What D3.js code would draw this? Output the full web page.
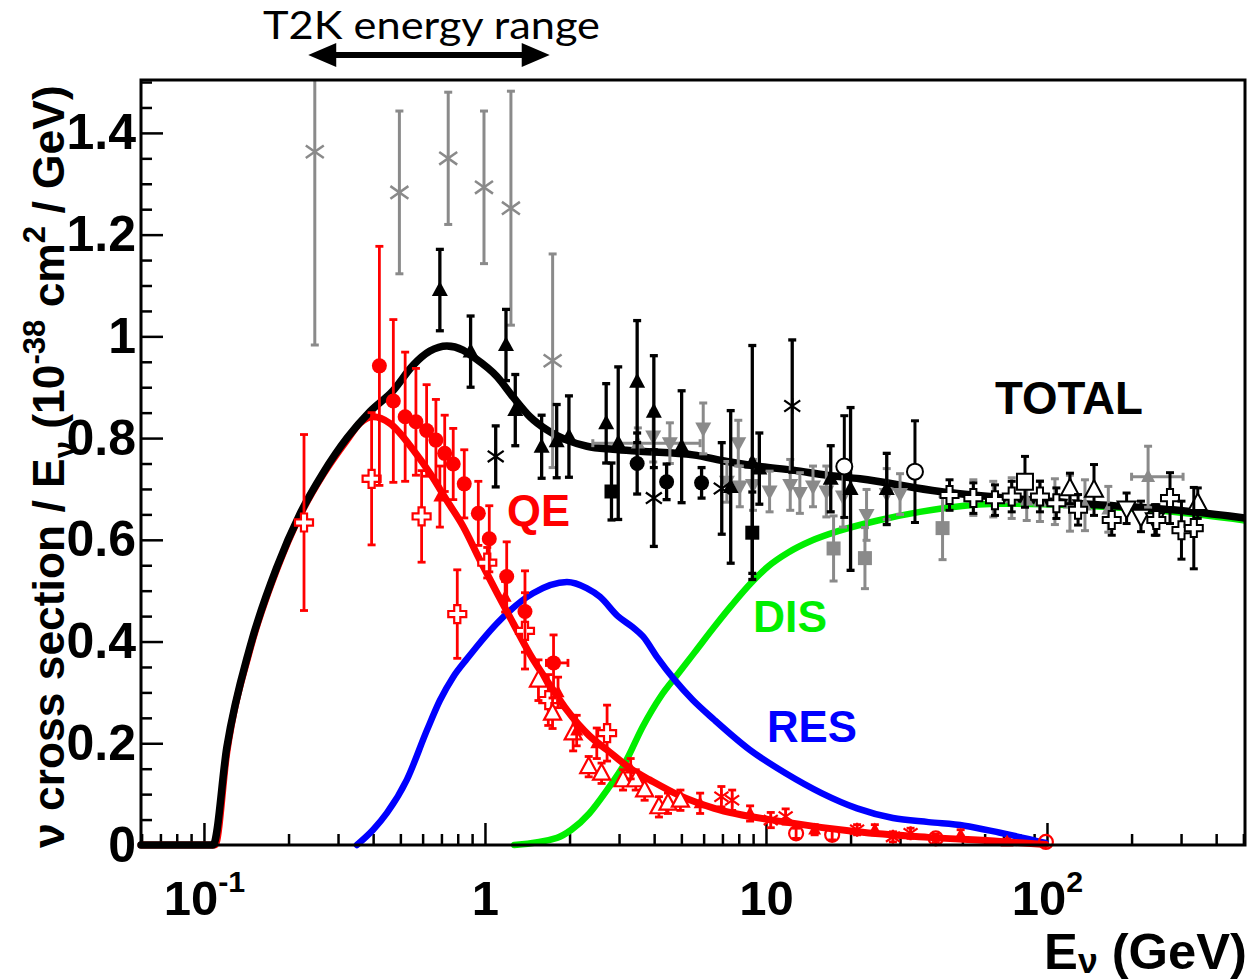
<!DOCTYPE html>
<html>
<head>
<meta charset="utf-8">
<title>Neutrino cross section</title>
<script src="https://cdn.jsdelivr.net/npm/d3@7/dist/d3.min.js"></script>
<style>
  body { margin: 0; background: #fff; }
  svg { display: block; }
  text { font-family: "Liberation Sans", Arial, Helvetica, sans-serif; font-weight: bold; }
  text.t2k { font-family: Lato, "Open Sans", sans-serif; font-weight: normal; }
</style>
</head>
<body>
<div id="chart"></div>
<script>
// ---- model curves: [E (GeV), sigma/E (1e-38 cm2/GeV)]
var totalCurve = [
  [0.0597, 0], [0.1077, 0], [0.1207, 0.193], [0.1458, 0.389], [0.182, 0.547], [0.2197, 0.651],
  [0.2652, 0.731], [0.3228, 0.800], [0.3896, 0.852], [0.4707, 0.893], [0.5544, 0.943],
  [0.637, 0.971], [0.732, 0.981], [0.835, 0.973], [0.906, 0.960], [1.103, 0.921],
  [1.258, 0.881], [1.446, 0.842], [1.662, 0.816], [1.958, 0.796], [2.307, 0.784],
  [2.855, 0.778], [3.561, 0.774], [5.50, 0.767], [7.26, 0.754], [9.52, 0.744],
  [12.48, 0.737], [16.48, 0.727], [21.6, 0.720], [41.6, 0.695], [72.1, 0.682],
  [163.5, 0.668], [280.6, 0.659], [506.6, 0.643]
];
var qeCurve = [
  [0.0597, 0], [0.1095, 0], [0.1207, 0.183], [0.1458, 0.384], [0.182, 0.543], [0.2197, 0.648],
  [0.2652, 0.728], [0.3228, 0.796], [0.36, 0.830], [0.40, 0.842], [0.459, 0.829],
  [0.5555, 0.777], [0.637, 0.731], [0.7305, 0.678], [0.837, 0.626], [0.96, 0.560],
  [1.10, 0.497], [1.26, 0.436], [1.446, 0.375], [1.70, 0.315], [1.958, 0.265],
  [2.35, 0.215], [2.717, 0.187], [3.36, 0.147], [3.86, 0.128], [4.89, 0.098],
  [6.55, 0.072], [11.75, 0.045], [21.1, 0.026], [37.9, 0.015], [68.1, 0.007], [99, 0.001]
];
var resCurve = [
  [0.35, 0], [0.40, 0.03], [0.448, 0.063], [0.527, 0.128], [0.622, 0.226], [0.691, 0.284],
  [0.77, 0.330], [0.863, 0.366], [1.131, 0.442], [1.482, 0.495], [1.958, 0.517], [2.30, 0.505],
  [2.566, 0.488], [2.97, 0.450], [3.36, 0.428], [3.65, 0.41], [4.09, 0.37], [4.74, 0.324],
  [5.49, 0.285], [6.55, 0.246], [8.76, 0.187], [11.75, 0.141], [15.77, 0.102],
  [21.1, 0.072], [28.3, 0.053], [37.9, 0.045], [50.8, 0.038], [68.1, 0.024], [99, 0.004]
];
var disCurve = [
  [1.271, 0], [1.804, 0.014], [2.03, 0.03], [2.35, 0.062], [2.718, 0.108], [3.148, 0.161],
  [3.646, 0.233], [4.22, 0.292], [4.89, 0.338], [5.65, 0.383], [6.55, 0.429], [7.57, 0.472],
  [8.78, 0.513], [10.2, 0.548], [12.0, 0.575], [14.5, 0.598], [18.3, 0.618], [25, 0.638],
  [35.3, 0.655], [68.1, 0.671], [123.8, 0.668], [280, 0.655], [506, 0.638]
];

// ---- measurements: [E, value, error, (E low, E high)]
var grayCrosses = [[0.248, 1.363, 0.38], [0.496, 1.283, 0.16], [0.740, 1.350, 0.13],
  [0.992, 1.293, 0.15], [1.237, 1.252, 0.23], [1.741, 0.952, 0.21]];
var blackTriangles = [[0.691, 1.091, 0.08], [0.889, 0.970, 0.07], [1.188, 0.983, 0.07],
  [1.282, 0.855, 0.07], [1.591, 0.783, 0.062], [1.80, 0.794, 0.072], [1.99, 0.803, 0.08],
  [2.70, 0.829, 0.078], [2.98, 0.79, 0.15], [3.48, 0.911, 0.12], [3.99, 0.852, 0.11],
  [5.01, 0.783, 0.11], [7.49, 0.704, 0.15], [8.94, 0.752, 0.23], [9.47, 0.74, 0.07],
  [17.0, 0.72, 0.065], [20.0, 0.70, 0.16], [26.9, 0.70, 0.07]];
var blackCircles = [[3.48, 0.750, 0.06], [4.43, 0.714, 0.035], [5.90, 0.712, 0.03]];
var blackSquares = [[2.82, 0.695, 0.056], [8.94, 0.614, 0.08]];
var blackStars = [[1.092, 0.764, 0.06], [3.99, 0.682, 0.095], [6.96, 0.701, 0.09], [12.4, 0.863, 0.13]];
var grayDown = [[3.97, 0.803, 0.05], [4.55, 0.79, 0.04], [5.98, 0.819, 0.05], [7.97, 0.790, 0.045],
  [7.26, 0.714, 0.04], [8.07, 0.705, 0.04], [8.99, 0.708, 0.05], [10.3, 0.695, 0.04],
  [12.2, 0.708, 0.05], [13.2, 0.692, 0.04], [14.7, 0.705, 0.04], [16.4, 0.695, 0.05],
  [18.8, 0.685, 0.06], [22.8, 0.649, 0.05], [26.9, 0.69, 0.05], [30.0, 0.69, 0.04]];
var grayUp = [[3.5, 0.79, 0.03, 2.42, 5.83], [54.7, 0.683, 0.035], [64.4, 0.68, 0.035],
  [74.9, 0.682, 0.04], [84.7, 0.678, 0.04], [94.4, 0.676, 0.04], [106.7, 0.675, 0.045],
  [120.7, 0.672, 0.055], [136.5, 0.668, 0.05], [165.3, 0.66, 0.045], [229, 0.724, 0.06, 200, 305]];
var graySquares = [[17.4, 0.583, 0.064], [22.5, 0.564, 0.06], [42.5, 0.623, 0.062]];
var openCircles = [[19.0, 0.744, 0.1], [33.9, 0.734, 0.1]];
var openSquares = [[83.5, 0.714, 0.05]];
var openUp = [[120.7, 0.701, 0.03], [147, 0.698, 0.05], [344, 0.672, 0.03]];
var openDown = [[192, 0.662, 0.03], [216, 0.646, 0.03], [242, 0.639, 0.03]];
var openPlus = [[45, 0.688, 0.03], [54.7, 0.682, 0.03], [65.3, 0.678, 0.03], [74.9, 0.685, 0.03],
  [94.4, 0.685, 0.03], [108, 0.672, 0.03], [129, 0.659, 0.03], [170, 0.639, 0.03],
  [245, 0.639, 0.03], [274, 0.682, 0.05], [301, 0.619, 0.057], [333, 0.623, 0.08]];

var redCircles = [[0.421, 0.942, 0.235], [0.472, 0.873, 0.16], [0.520, 0.842, 0.127],
  [0.568, 0.832, 0.105], [0.620, 0.815, 0.09], [0.669, 0.796, 0.08], [0.719, 0.770, 0.075],
  [0.771, 0.749, 0.07], [0.844, 0.710, 0.067], [0.947, 0.652, 0.063], [1.036, 0.602, 0.065],
  [1.195, 0.528, 0.068], [1.388, 0.459, 0.08], [1.754, 0.358, 0.055, 1.654, 1.974]];
var redPlus = [[0.227, 0.634, 0.173], [0.395, 0.72, 0.13], [0.595, 0.646, 0.09], [0.797, 0.454, 0.087],
  [1.019, 0.555, 0.03], [1.388, 0.421, 0.075], [1.68, 0.285, 0.05], [2.72, 0.220, 0.055]];
var redOpenUp = [[1.55, 0.324, 0.04], [1.74, 0.259, 0.03], [2.06, 0.22, 0.035], [2.34, 0.154, 0.02],
  [2.60, 0.141, 0.02], [3.10, 0.128, 0.02], [3.44, 0.128, 0.02], [3.70, 0.108, 0.02],
  [4.16, 0.075, 0.02], [4.48, 0.082, 0.02], [4.96, 0.088, 0.02]];
var redUp = [[0.691, 0.685, 0.06], [1.18, 0.488, 0.03], [1.82, 0.30, 0.03], [2.12, 0.225, 0.03],
  [2.5, 0.20, 0.03], [3.3, 0.15, 0.02], [5.83, 0.082, 0.02], [8.78, 0.062, 0.015],
  [14.9, 0.03, 0.01], [24.4, 0.03, 0.01], [49.3, 0.02, 0.01], [72.1, 0.0066, 0.005]];
var redStars = [[6.94, 0.095, 0.02], [7.58, 0.088, 0.02], [10.4, 0.049, 0.015], [11.75, 0.056, 0.015],
  [21.1, 0.03, 0.01], [28.3, 0.016, 0.01], [32.7, 0.023, 0.01]];
var redRings = [[12.8, 0.023, 0.01], [17.2, 0.02, 0.01], [40.2, 0.013, 0.008], [99.1, 0.006, 0]];

// ---- axes
var yTicks = [0, 0.2, 0.4, 0.6, 0.8, 1.0, 1.2, 1.4];
var yTickLabels = ["0", "0.2", "0.4", "0.6", "0.8", "1", "1.2", "1.4"];
var xTicks = [0.1, 1, 10, 100];
var xTickLabels = [["10", "-1"], ["1", ""], ["10", ""], ["10", "2"]];
var t2kRange = [0.235, 1.70];

var width = 1250, height = 980;
var frame = {left: 141, right: 1245, top: 80, bottom: 845};

var x = d3.scaleLog().domain([0.0597, 506.6]).range([frame.left, frame.right]);
var y = d3.scaleLinear().domain([0, 1.504]).range([frame.bottom, frame.top]);

var svg = d3.select("#chart").append("svg")
    .attr("width", width)
    .attr("height", height);

svg.append("clipPath").attr("id", "plot-clip")
    .append("rect")
    .attr("x", frame.left - 4).attr("y", frame.top)
    .attr("width", frame.right - frame.left + 4)
    .attr("height", height - frame.top);

// minor tick positions
var yMinor = d3.range(0, 1.501, 0.05).filter(function (v) {
    return Math.abs(v / 0.2 - Math.round(v / 0.2)) > 0.01;
});
var xMinor = [];
[0.01, 0.1, 1, 10, 100].forEach(function (dec) {
    for (var k = 2; k <= 9; k++) {
        var v = dec * k;
        if (v >= 0.0597 && v <= 506.6) xMinor.push(v);
    }
});

function styleTicks(g) {
    g.select(".domain").remove();
    g.selectAll("line").attr("stroke", "#000").attr("stroke-width", 2.5);
}

svg.append("g")
    .attr("transform", "translate(" + frame.left + ",0)")
    .call(d3.axisLeft(y).tickValues(yMinor).tickSize(-11).tickFormat(""))
    .call(styleTicks);

svg.append("g")
    .attr("transform", "translate(" + frame.left + ",0)")
    .call(d3.axisLeft(y).tickValues(yTicks).tickSize(-22).tickPadding(5)
        .tickFormat(function (d, i) { return yTickLabels[i]; }))
    .call(styleTicks)
    .call(function (g) {
        g.selectAll("text").attr("font-size", 50).attr("fill", "#000");
    });

svg.append("g")
    .attr("transform", "translate(0," + frame.bottom + ")")
    .call(d3.axisBottom(x).tickValues(xMinor).tickSize(-11).tickFormat(""))
    .call(styleTicks);

var xMajor = svg.append("g")
    .attr("transform", "translate(0," + frame.bottom + ")")
    .call(d3.axisBottom(x).tickValues(xTicks).tickSize(-22).tickFormat(""))
    .call(styleTicks);

xMajor.selectAll(".tick").each(function (d, i) {
    var t = d3.select(this).append("text")
        .attr("y", 70)
        .attr("text-anchor", "middle")
        .attr("font-size", 49)
        .attr("fill", "#000");
    t.append("tspan").text(xTickLabels[i][0]);
    if (xTickLabels[i][1]) {
        t.append("tspan").attr("font-size", "0.62em").attr("dy", "-0.75em").text(xTickLabels[i][1]);
    }
});

// ---- curves
var plot = svg.append("g").attr("clip-path", "url(#plot-clip)");
var line = d3.line()
    .x(function (d) { return x(d[0]); })
    .y(function (d) { return y(d[1]); })
    .curve(d3.curveMonotoneX);

function drawCurve(data, color, w) {
    plot.append("path")
        .datum(data)
        .attr("d", line)
        .attr("fill", "none")
        .attr("stroke", color)
        .attr("stroke-width", w)
        .attr("stroke-linejoin", "round")
        .attr("stroke-linecap", "round");
}

drawCurve(disCurve, "#00ee00", 6.5);
drawCurve(resCurve, "#0000ff", 6.5);
drawCurve(qeCurve, "#ff0000", 7);
drawCurve(totalCurve, "#000000", 7.5);

// ---- marker shapes (size = half width in px)
var shapes = {
    circle: { draw: function (c, r) { c.moveTo(r, 0); c.arc(0, 0, r, 0, 2 * Math.PI); } },
    up: { draw: function (c, r) { c.moveTo(0, -r * 1.1); c.lineTo(r, r * 0.75); c.lineTo(-r, r * 0.75); c.closePath(); } },
    down: { draw: function (c, r) { c.moveTo(0, r * 1.1); c.lineTo(r, -r * 0.75); c.lineTo(-r, -r * 0.75); c.closePath(); } },
    square: { draw: function (c, r) { c.rect(-r, -r, 2 * r, 2 * r); } },
    plus: { draw: function (c, r) {
        var a = r * 0.34;
        c.moveTo(-a, -r); c.lineTo(a, -r); c.lineTo(a, -a); c.lineTo(r, -a); c.lineTo(r, a);
        c.lineTo(a, a); c.lineTo(a, r); c.lineTo(-a, r); c.lineTo(-a, a); c.lineTo(-r, a);
        c.lineTo(-r, -a); c.lineTo(-a, -a); c.closePath();
    } },
    times: { draw: function (c, r) { c.moveTo(-r, -r * 0.7); c.lineTo(r, r * 0.7); c.moveTo(r, -r * 0.7); c.lineTo(-r, r * 0.7); } },
    star: { draw: function (c, r) {
        c.moveTo(-r, -r * 0.7); c.lineTo(r, r * 0.7); c.moveTo(r, -r * 0.7); c.lineTo(-r, r * 0.7);
        c.moveTo(0, -r); c.lineTo(0, r);
    } }
};

function drawSeries(data, s) {
    var g = plot.append("g");
    var pts = g.selectAll("g").data(data).join("g");
    var cap = s.cap || 4;
    pts.each(function (d) {
        var el = d3.select(this);
        var px = x(d[0]);
        if (d[2] > 0) {
            var y0 = y(d[1] - d[2]), y1 = y(d[1] + d[2]);
            el.append("line").attr("x1", px).attr("x2", px).attr("y1", y0).attr("y2", y1);
            el.append("line").attr("x1", px - cap).attr("x2", px + cap).attr("y1", y0).attr("y2", y0);
            el.append("line").attr("x1", px - cap).attr("x2", px + cap).attr("y1", y1).attr("y2", y1);
        }
        if (d.length > 4) {
            var py = y(d[1]), x0 = x(d[3]), x1 = x(d[4]);
            el.append("line").attr("x1", x0).attr("x2", x1).attr("y1", py).attr("y2", py);
            el.append("line").attr("x1", x0).attr("x2", x0).attr("y1", py - cap).attr("y2", py + cap);
            el.append("line").attr("x1", x1).attr("x2", x1).attr("y1", py - cap).attr("y2", py + cap);
        }
        el.selectAll("line").attr("stroke", s.bar).attr("stroke-width", s.barWidth);
    });
    pts.append("path")
        .attr("transform", function (d) { return "translate(" + x(d[0]) + "," + y(d[1]) + ")"; })
        .attr("d", function () { return d3.symbol().type(shapes[s.shape]).size(s.r)(); })
        .attr("fill", s.fill)
        .attr("stroke", s.stroke || "none")
        .attr("stroke-width", s.sw || 0);
}

var gray = "#8a8a8a";
drawSeries(grayCrosses, { shape: "times", r: 9, fill: "none", stroke: gray, sw: 2.5, bar: gray, barWidth: 3 });
drawSeries(grayDown, { shape: "down", r: 8, fill: gray, bar: gray, barWidth: 3 });
drawSeries(grayUp, { shape: "up", r: 7, fill: gray, bar: gray, barWidth: 3 });
drawSeries(graySquares, { shape: "square", r: 7, fill: gray, bar: gray, barWidth: 3 });
drawSeries(blackTriangles, { shape: "up", r: 8, fill: "#000", bar: "#000", barWidth: 3.3 });
drawSeries(blackCircles, { shape: "circle", r: 7.5, fill: "#000", bar: "#000", barWidth: 3.3 });
drawSeries(blackSquares, { shape: "square", r: 7, fill: "#000", bar: "#000", barWidth: 3.3 });
drawSeries(blackStars, { shape: "star", r: 8, fill: "none", stroke: "#000", sw: 2.2, bar: "#000", barWidth: 3.3 });
drawSeries(openCircles, { shape: "circle", r: 8, fill: "#fff", stroke: "#000", sw: 2, bar: "#000", barWidth: 3 });
drawSeries(openSquares, { shape: "square", r: 8, fill: "#fff", stroke: "#000", sw: 2, bar: "#000", barWidth: 3 });
drawSeries(openUp, { shape: "up", r: 9, fill: "#fff", stroke: "#000", sw: 2, bar: "#000", barWidth: 3 });
drawSeries(openDown, { shape: "down", r: 9, fill: "#fff", stroke: "#000", sw: 2, bar: "#000", barWidth: 3 });
drawSeries(openPlus, { shape: "plus", r: 9, fill: "#fff", stroke: "#000", sw: 2, bar: "#000", barWidth: 3 });

drawSeries(redPlus, { shape: "plus", r: 9, fill: "#fff", stroke: "#ff0000", sw: 2.2, bar: "#ff0000", barWidth: 2.8 });
drawSeries(redOpenUp, { shape: "up", r: 8.5, fill: "#fff", stroke: "#ff0000", sw: 2.2, bar: "#ff0000", barWidth: 2.8 });
drawSeries(redUp, { shape: "up", r: 6.5, fill: "#ff0000", bar: "#ff0000", barWidth: 2.8 });
drawSeries(redStars, { shape: "star", r: 7, fill: "none", stroke: "#ff0000", sw: 2.2, bar: "#ff0000", barWidth: 2.8 });
drawSeries(redRings, { shape: "circle", r: 7, fill: "none", stroke: "#ff0000", sw: 2.2, bar: "#ff0000", barWidth: 2.8 });
drawSeries(redCircles, { shape: "circle", r: 7.5, fill: "#ff0000", bar: "#ff0000", barWidth: 2.8 });

// ---- frame
svg.append("rect")
    .attr("x", frame.left).attr("y", frame.top)
    .attr("width", frame.right - frame.left).attr("height", frame.bottom - frame.top)
    .attr("fill", "none").attr("stroke", "#000").attr("stroke-width", 3);

// ---- text helpers
function fitWidth(sel, target) {
    var w = sel.node().getBBox().width;
    var fs = parseFloat(sel.attr("font-size"));
    sel.attr("font-size", fs * target / w);
}

function label(txt, px, baseline, w, color) {
    var t = svg.append("text")
        .attr("x", px).attr("y", baseline)
        .attr("font-size", 46)
        .attr("fill", color)
        .text(txt);
    fitWidth(t, w);
}
label("TOTAL", 995, 414, 148, "#000");
label("QE", 507, 526, 63, "#ff0000");
label("DIS", 753, 632, 74, "#00ee00");
label("RES", 767, 742, 90, "#0000ff");

// T2K annotation
svg.append("text").attr("class", "t2k")
    .attr("x", 263).attr("y", 39)
    .attr("font-size", 38).attr("fill", "#000")
    .attr("textLength", 337).attr("lengthAdjust", "spacingAndGlyphs")
    .text("T2K energy range");

var ax0 = x(t2kRange[0]), ax1 = x(t2kRange[1]), ay = 55;
svg.append("line")
    .attr("x1", ax0 + 20).attr("x2", ax1 - 20).attr("y1", ay).attr("y2", ay)
    .attr("stroke", "#000").attr("stroke-width", 6);
svg.append("path")
    .attr("d", "M" + ax0 + "," + ay + "L" + (ax0 + 28) + "," + (ay - 12) + "L" + (ax0 + 28) + "," + (ay + 12) + "Z" +
               "M" + ax1 + "," + ay + "L" + (ax1 - 28) + "," + (ay - 12) + "L" + (ax1 - 28) + "," + (ay + 12) + "Z")
    .attr("fill", "#000");

// x title
var xt = svg.append("text")
    .attr("x", 1247).attr("y", 969)
    .attr("text-anchor", "end")
    .attr("font-size", 50).attr("fill", "#000");
xt.append("tspan").text("E");
xt.append("tspan").attr("font-size", "0.7em").attr("dy", "0.1em").text("ν");
xt.append("tspan").attr("dy", "-0.07em").text(" (GeV)");
fitWidth(xt, 203);

// y title
var yt = svg.append("text")
    .attr("transform", "translate(64,848) rotate(-90)")
    .attr("font-size", 45).attr("fill", "#000");
yt.append("tspan").text("ν cross section / E");
yt.append("tspan").attr("font-size", "0.7em").attr("dy", "0.35em").text("ν");
yt.append("tspan").attr("dy", "-0.245em").text(" (10");
yt.append("tspan").attr("font-size", "0.7em").attr("dy", "-0.6em").text("-38");
yt.append("tspan").attr("dy", "0.42em").text(" cm");
yt.append("tspan").attr("font-size", "0.7em").attr("dy", "-0.6em").text("2");
yt.append("tspan").attr("dy", "0.42em").text(" / GeV)");
fitWidth(yt, 763);
</script>
</body>
</html>
